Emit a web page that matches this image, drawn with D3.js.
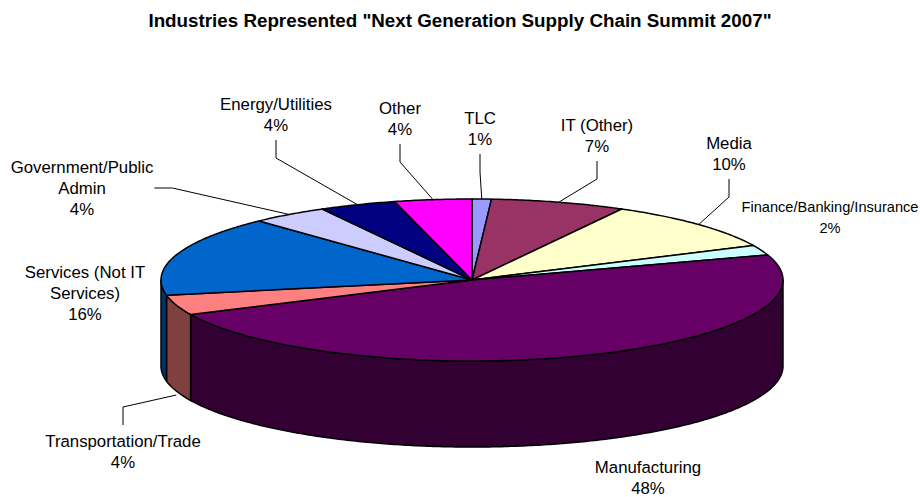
<!DOCTYPE html>
<html>
<head>
<meta charset="utf-8">
<script src="https://cdn.jsdelivr.net/npm/d3@7"></script>
<style>
  html, body { margin: 0; padding: 0; background: #fff; }
  svg { display: block; font-family: Arial, "Liberation Sans", sans-serif; }
</style>
</head>
<body>
<svg id="chart" width="920" height="497"></svg>
<script>
// ---- data ----
const categories = ["TLC", "IT (Other)", "Media", "Finance/Banking/Insurance", "Manufacturing",
                    "Transportation/Trade", "Services (Not IT Services)", "Government/Public Admin",
                    "Energy/Utilities", "Other"];
const values = [1, 7, 10, 2, 48, 4, 16, 4, 4, 4];
const percentLabels = ["1%", "7%", "10%", "2%", "48%", "4%", "16%", "4%", "4%", "4%"];
const labelLines = [["TLC"], ["IT (Other)"], ["Media"], ["Finance/Banking/Insurance"], ["Manufacturing"],
                    ["Transportation/Trade"], ["Services (Not IT", "Services)"], ["Government/Public", "Admin"],
                    ["Energy/Utilities"], ["Other"]];
const titleText = 'Industries Represented "Next Generation Supply Chain Summit 2007"';

// ---- style / layout ----
const topColors  = ["#9999FF", "#993366", "#FFFFCC", "#CCFFFF", "#660066", "#FF8080", "#0066CC", "#CCCCFF", "#000080", "#FF00FF"];
const sideColors = ["#4D4D80", "#4D1A33", "#808066", "#668080", "#330033", "#804040", "#003366", "#666680", "#000040", "#800080"];
// label placement: center x, y of first line, leader type, font size
const labelLayout = [
  {x: 480, y: 118, leader: "down", fs: 16.8},
  {x: 597, y: 125, leader: "down", fs: 16.8},
  {x: 729, y: 143, leader: "down", fs: 16.8},
  {x: 830, y: 207, leader: "none", fs: 14.6},
  {x: 648, y: 467, leader: "none", fs: 16.8},
  {x: 123, y: 441, leader: "up",   fs: 16.8},
  {x: 85,  y: 272, leader: "none", fs: 16.8},
  {x: 82,  y: 167, leader: "right", fs: 16.8},
  {x: 276, y: 104, leader: "down", fs: 16.8},
  {x: 400, y: 108, leader: "down", fs: 16.8}
];
const lineH = 21;

const cx = 472, cy = 280, rx = 311, ry = 81, depth = 86;

const svg = d3.select("#chart");

svg.append("text")
  .attr("x", 460).attr("y", 27)
  .attr("text-anchor", "middle")
  .attr("font-weight", "bold")
  .attr("font-size", 18.8)
  .attr("fill", "#000")
  .text(titleText);

const pie = d3.pie().sort(null).value(d => d)(values);

function pt(a, dy) { return [cx + rx * Math.sin(a), cy - ry * Math.cos(a) + (dy || 0)]; }
function arcPts(a0, a1, dy) {
  const n = Math.max(2, Math.ceil(Math.abs(a1 - a0) / 0.01));
  return d3.range(n + 1).map(i => pt(a0 + (a1 - a0) * i / n, dy));
}
const line = d3.line();

const g = svg.append("g");

// side walls (front half: angles between PI/2 and 3PI/2)
pie.forEach((s, i) => {
  const a0 = Math.max(s.startAngle, Math.PI / 2);
  const a1 = Math.min(s.endAngle, 3 * Math.PI / 2);
  if (a1 <= a0) return;
  const pts = arcPts(a0, a1, 0).concat(arcPts(a1, a0, depth));
  g.append("path")
    .attr("d", line(pts) + "Z")
    .attr("fill", sideColors[i])
    .attr("stroke", "#000")
    .attr("stroke-width", 1.5)
    .attr("stroke-linejoin", "round");
});

// top faces
pie.forEach((s, i) => {
  const pts = [[cx, cy]].concat(arcPts(s.startAngle, s.endAngle, 0));
  g.append("path")
    .attr("d", line(pts) + "Z")
    .attr("fill", topColors[i])
    .attr("stroke", "#000")
    .attr("stroke-width", 1.5)
    .attr("stroke-linejoin", "round");
});

// labels + leader lines
const lg = svg.append("g");
pie.forEach((s, i) => {
  const L = labelLayout[i];
  const lines = labelLines[i].concat([percentLabels[i]]);
  const t = lg.append("text")
    .attr("text-anchor", "middle")
    .attr("font-size", L.fs)
    .attr("fill", "#000");
  lines.forEach((txt, k) => {
    t.append("tspan").attr("x", L.x).attr("y", L.y + k * lineH).attr("dy", "0.36em").text(txt);
  });
  const mid = (s.startAngle + s.endAngle) / 2;
  const lastY = L.y + (lines.length - 1) * lineH;
  let ptsL = null;
  if (L.leader === "down") {
    const anchor = pt(mid, 0);
    ptsL = [[L.x, lastY + 15], [L.x, lastY + 33], anchor];
  } else if (L.leader === "right") {
    const bb = t.node().getBBox();
    const sx = bb.x + bb.width + 1;
    const sy = (L.y + lastY) / 2;
    ptsL = [[sx, sy], [sx + 18, sy], pt(mid, 0)];
  } else if (L.leader === "up") {
    const inFront = mid > Math.PI / 2 && mid < 3 * Math.PI / 2;
    const anchor = pt(mid, inFront ? depth + 4 : 0);
    ptsL = [[L.x, L.y - 16], [L.x, L.y - 34], anchor];
  }
  if (ptsL) {
    lg.append("path")
      .attr("d", line(ptsL))
      .attr("fill", "none")
      .attr("stroke", "#000")
      .attr("stroke-width", 1);
  }
});
</script>
</body>
</html>
